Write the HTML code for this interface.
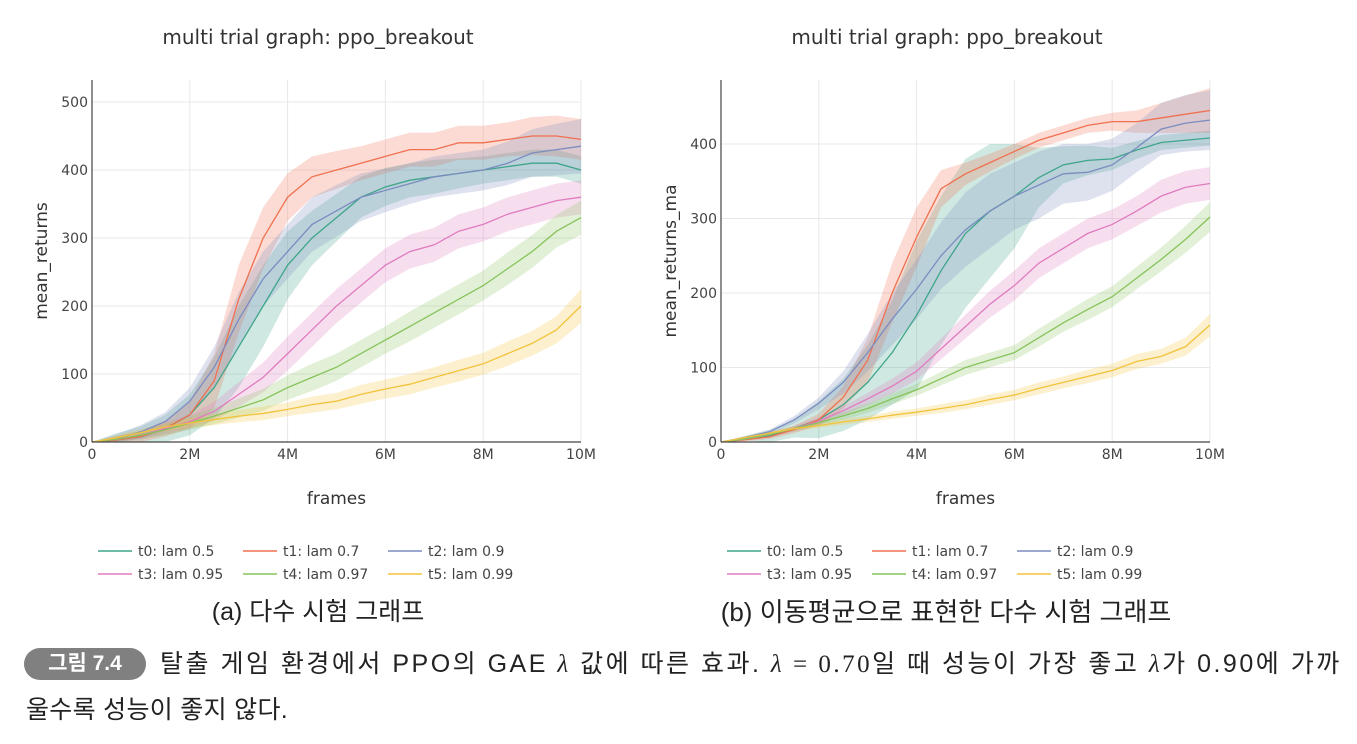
<!DOCTYPE html>
<html><head><meta charset="utf-8">
<style>
body{margin:0;background:#fff;width:1357px;height:744px;overflow:hidden;font-family:"Liberation Sans","Noto Sans CJK KR",sans-serif;}
svg{position:absolute;left:0;top:0;font-family:"DejaVu Sans",sans-serif}
.cap{position:absolute;font-family:"Liberation Sans","Noto Sans CJK KR",sans-serif;color:#222}
</style></head>
<body>
<svg id="chart" width="1357" height="744"></svg>
<div class="cap" style="left:0;width:636px;top:592px;text-align:center;font-size:25px;">(a) 다수 시험 그래프</div>
<div class="cap" style="left:630px;width:632px;top:592px;text-align:center;font-size:26px;">(b) 이동평균으로 표현한 다수 시험 그래프</div>
<div class="cap" style="left:24px;top:648px;width:122px;height:32px;border-radius:16px;background:#808080;color:#fff;font-weight:bold;font-size:21px;line-height:32px;text-align:center;">그림 7.4</div>
<div class="cap" style="left:160px;top:645px;width:1197px;white-space:nowrap;font-size:25px;letter-spacing:2.5px;line-height:38px;">탈출 게임 환경에서 PPO의 GAE <i style="font-family:'Liberation Serif',serif">λ</i> 값에 따른 효과. <span style="font-family:'Liberation Serif',serif"><i>λ</i> = 0.70</span>일 때 성능이 가장 좋고 <i style="font-family:'Liberation Serif',serif">λ</i>가 0.90에 가까</div>
<div class="cap" style="left:26px;top:691px;font-size:25px;letter-spacing:0.3px;line-height:38px;">울수록 성능이 좋지 않다.</div>
<script>
const xs = [0,0.5,1,1.5,2,2.5,3,3.5,4,4.5,5,5.5,6,6.5,7,7.5,8,8.5,9,9.5,10];
const names = ["t0: lam 0.5","t1: lam 0.7","t2: lam 0.9","t3: lam 0.95","t4: lam 0.97","t5: lam 0.99"];
const colors = ["#3fa58a","#f0704f","#7b8cc0","#e07bbf","#86c35a","#f2c33c"];
// left chart (raw)
const rawT0 = [0,3,8,20,40,80,140,200,260,300,330,360,375,385,390,395,400,405,410,410,400];
const rawT1 = [0,3,8,20,40,90,210,300,360,390,400,410,420,430,430,440,440,445,450,450,445];
const rawT2 = [0,5,15,30,60,110,180,240,280,320,340,360,370,380,390,395,400,410,425,430,435];
const rawT3 = [0,4,10,20,30,45,70,95,130,165,200,230,260,280,290,310,320,335,345,355,360];
const rawT4 = [0,4,10,18,28,38,50,62,80,95,110,130,150,170,190,210,230,255,280,310,330];
const rawT5 = [0,6,14,22,28,33,38,42,48,55,60,70,78,85,95,105,115,130,145,165,200];
const rawBand = [
[0,10,15,20,30,45,60,60,50,40,35,30,28,25,25,22,20,20,20,20,20],
[0,5,8,12,20,40,50,45,35,30,28,25,25,25,25,25,25,25,28,30,30],
[0,6,10,14,20,30,40,40,40,40,38,35,32,30,30,30,30,32,35,38,40],
[0,4,6,8,10,14,18,22,25,25,25,25,25,25,25,25,25,25,25,25,25],
[0,4,6,8,10,12,14,16,18,20,20,20,20,22,22,22,22,24,24,24,25],
[0,4,5,6,7,8,9,10,10,12,12,14,14,15,15,16,16,18,18,20,25]];
// right chart (moving average)
const maT0 = [0,5,8,18,30,50,80,120,170,230,280,310,330,355,372,378,380,392,402,405,408];
const maT1 = [0,3,7,17,30,60,110,200,275,340,360,375,390,405,415,425,430,430,435,440,445];
const maT2 = [0,6,14,30,52,80,120,165,205,250,285,310,330,345,360,362,372,395,420,428,432];
const maT3 = [0,4,10,18,28,42,58,75,95,125,155,185,210,240,260,280,292,310,330,342,347];
const maT4 = [0,4,10,18,26,35,45,58,70,85,100,110,120,140,160,178,195,220,245,272,302];
const maT5 = [0,6,12,18,22,27,31,36,40,45,50,57,63,72,80,88,96,108,115,128,157];
const maBand = [
[0,3,8,12,25,35,50,70,100,100,100,90,70,40,25,20,15,12,10,10,10],
[0,2,3,5,8,15,30,40,40,25,15,12,10,10,10,10,12,15,20,25,30],
[0,2,3,5,8,15,25,35,40,45,50,50,45,45,40,38,35,33,35,38,40],
[0,2,3,4,5,6,8,10,12,14,16,18,20,20,20,20,20,20,22,22,22],
[0,2,3,3,4,5,6,7,8,9,10,10,10,12,12,14,14,15,16,18,20],
[0,2,2,3,3,4,4,5,5,6,6,7,7,8,8,9,9,10,10,12,15]];
const xTicks = [0,2,4,6,8,10];
const xTickLabels = ["0","2M","4M","6M","8M","10M"];
const yTicksA = [0,100,200,300,400,500];
const yTicksB = [0,100,200,300,400];

const NS="http://www.w3.org/2000/svg";
const svg=document.getElementById('chart');
function mk(tag,attrs,parent){const e=document.createElementNS(NS,tag);for(const k in attrs)e.setAttribute(k,attrs[k]);(parent||svg).appendChild(e);return e;}

function drawChart(cfg){
  const g=mk('g',{});
  
  
  const X=v=>cfg.x0+(v/10)*(cfg.x1-cfg.x0);
  const Y=v=>cfg.y0-v*cfg.ppu;
  cfg.yTicks.forEach(t=>{
    if(t>0){const l=mk('line',{x1:cfg.x0,x2:cfg.x1,y1:Y(t),y2:Y(t),stroke:'#e8e8e8','stroke-width':1},g);
    
    }
    const tx=mk('text',{x:cfg.x0-4,y:Y(t)+5,'text-anchor':'end','font-size':14,fill:'#444'},g);
    tx.textContent=t;
    
    
  });
  xTicks.forEach((t,i)=>{
    if(t>0){const l=mk('line',{x1:X(t),x2:X(t),y1:cfg.top,y2:cfg.y0,stroke:'#e8e8e8','stroke-width':1},g);
    
    }
    const tx=mk('text',{x:X(t),y:cfg.y0+17,'text-anchor':'middle','font-size':14,fill:'#444'},g);
    tx.textContent=xTickLabels[i];
    
    
  });
  cfg.series.forEach((s,i)=>{
    const b=cfg.bands[i];
    let d='M'+xs.map((x,j)=>X(x)+','+Y(s[j]+b[j])).join(' L');
    for(let j=xs.length-1;j>=0;j--) d+=' L'+X(xs[j])+','+Y(Math.max(0,s[j]-b[j]));
    const p=mk('path',{d:d+'Z',fill:colors[i],'fill-opacity':0.25,stroke:'none'},g);
    
    
  });
  cfg.series.forEach((s,i)=>{
    const p=mk('polyline',{points:xs.map((x,j)=>X(x)+','+Y(s[j])).join(' '),fill:'none',stroke:colors[i],'stroke-width':1.3},g);
    
    
  });
  const ax=mk('line',{x1:cfg.x0,x2:cfg.x1,y1:cfg.y0,y2:cfg.y0,stroke:'#444','stroke-width':1.2},g);
  
  
  const ay=mk('line',{x1:cfg.x0,x2:cfg.x0,y1:cfg.top,y2:cfg.y0,stroke:'#444','stroke-width':1.2},g);
  
  
  const tt=mk('text',{x:cfg.cx,y:44,'text-anchor':'middle','font-size':20,fill:'#333'},g);
  tt.textContent='multi trial graph: ppo_breakout';
  
  
  const xt=mk('text',{x:(cfg.x0+cfg.x1)/2,y:504,'text-anchor':'middle','font-size':17,fill:'#333'},g);
  xt.textContent='frames';
  
  
  const yt=mk('text',{x:0,y:0,'text-anchor':'middle','font-size':17,fill:'#333',transform:`translate(${cfg.x0-45},${(cfg.top+cfg.y0)/2}) rotate(-90)`},g);
  yt.textContent=cfg.ytitle;
  
  
  names.forEach((n,i)=>{
    const lx=cfg.legX+(i%3)*145, ly=551+Math.floor(i/3)*23;
    const lg=mk('g',{},g);
    
    
    mk('line',{x1:lx,x2:lx+34,y1:ly,y2:ly,stroke:colors[i],'stroke-width':1.5},lg);
    const t=mk('text',{x:lx+40,y:ly+5,'font-size':14,fill:'#444'},lg);
    t.textContent=n;
  });
}
drawChart({name:'raw-chart',x0:92,x1:581,y0:442,top:80,ppu:0.68,yTicks:yTicksA,cx:318,legX:98,ytitle:'mean_returns',
  series:[rawT0,rawT1,rawT2,rawT3,rawT4,rawT5],bands:rawBand});
drawChart({name:'moving-average-chart',x0:721,x1:1210,y0:442,top:80,ppu:0.745,yTicks:yTicksB,cx:947,legX:727,ytitle:'mean_returns_ma',
  series:[maT0,maT1,maT2,maT3,maT4,maT5],bands:maBand});
</script>
</body></html>
